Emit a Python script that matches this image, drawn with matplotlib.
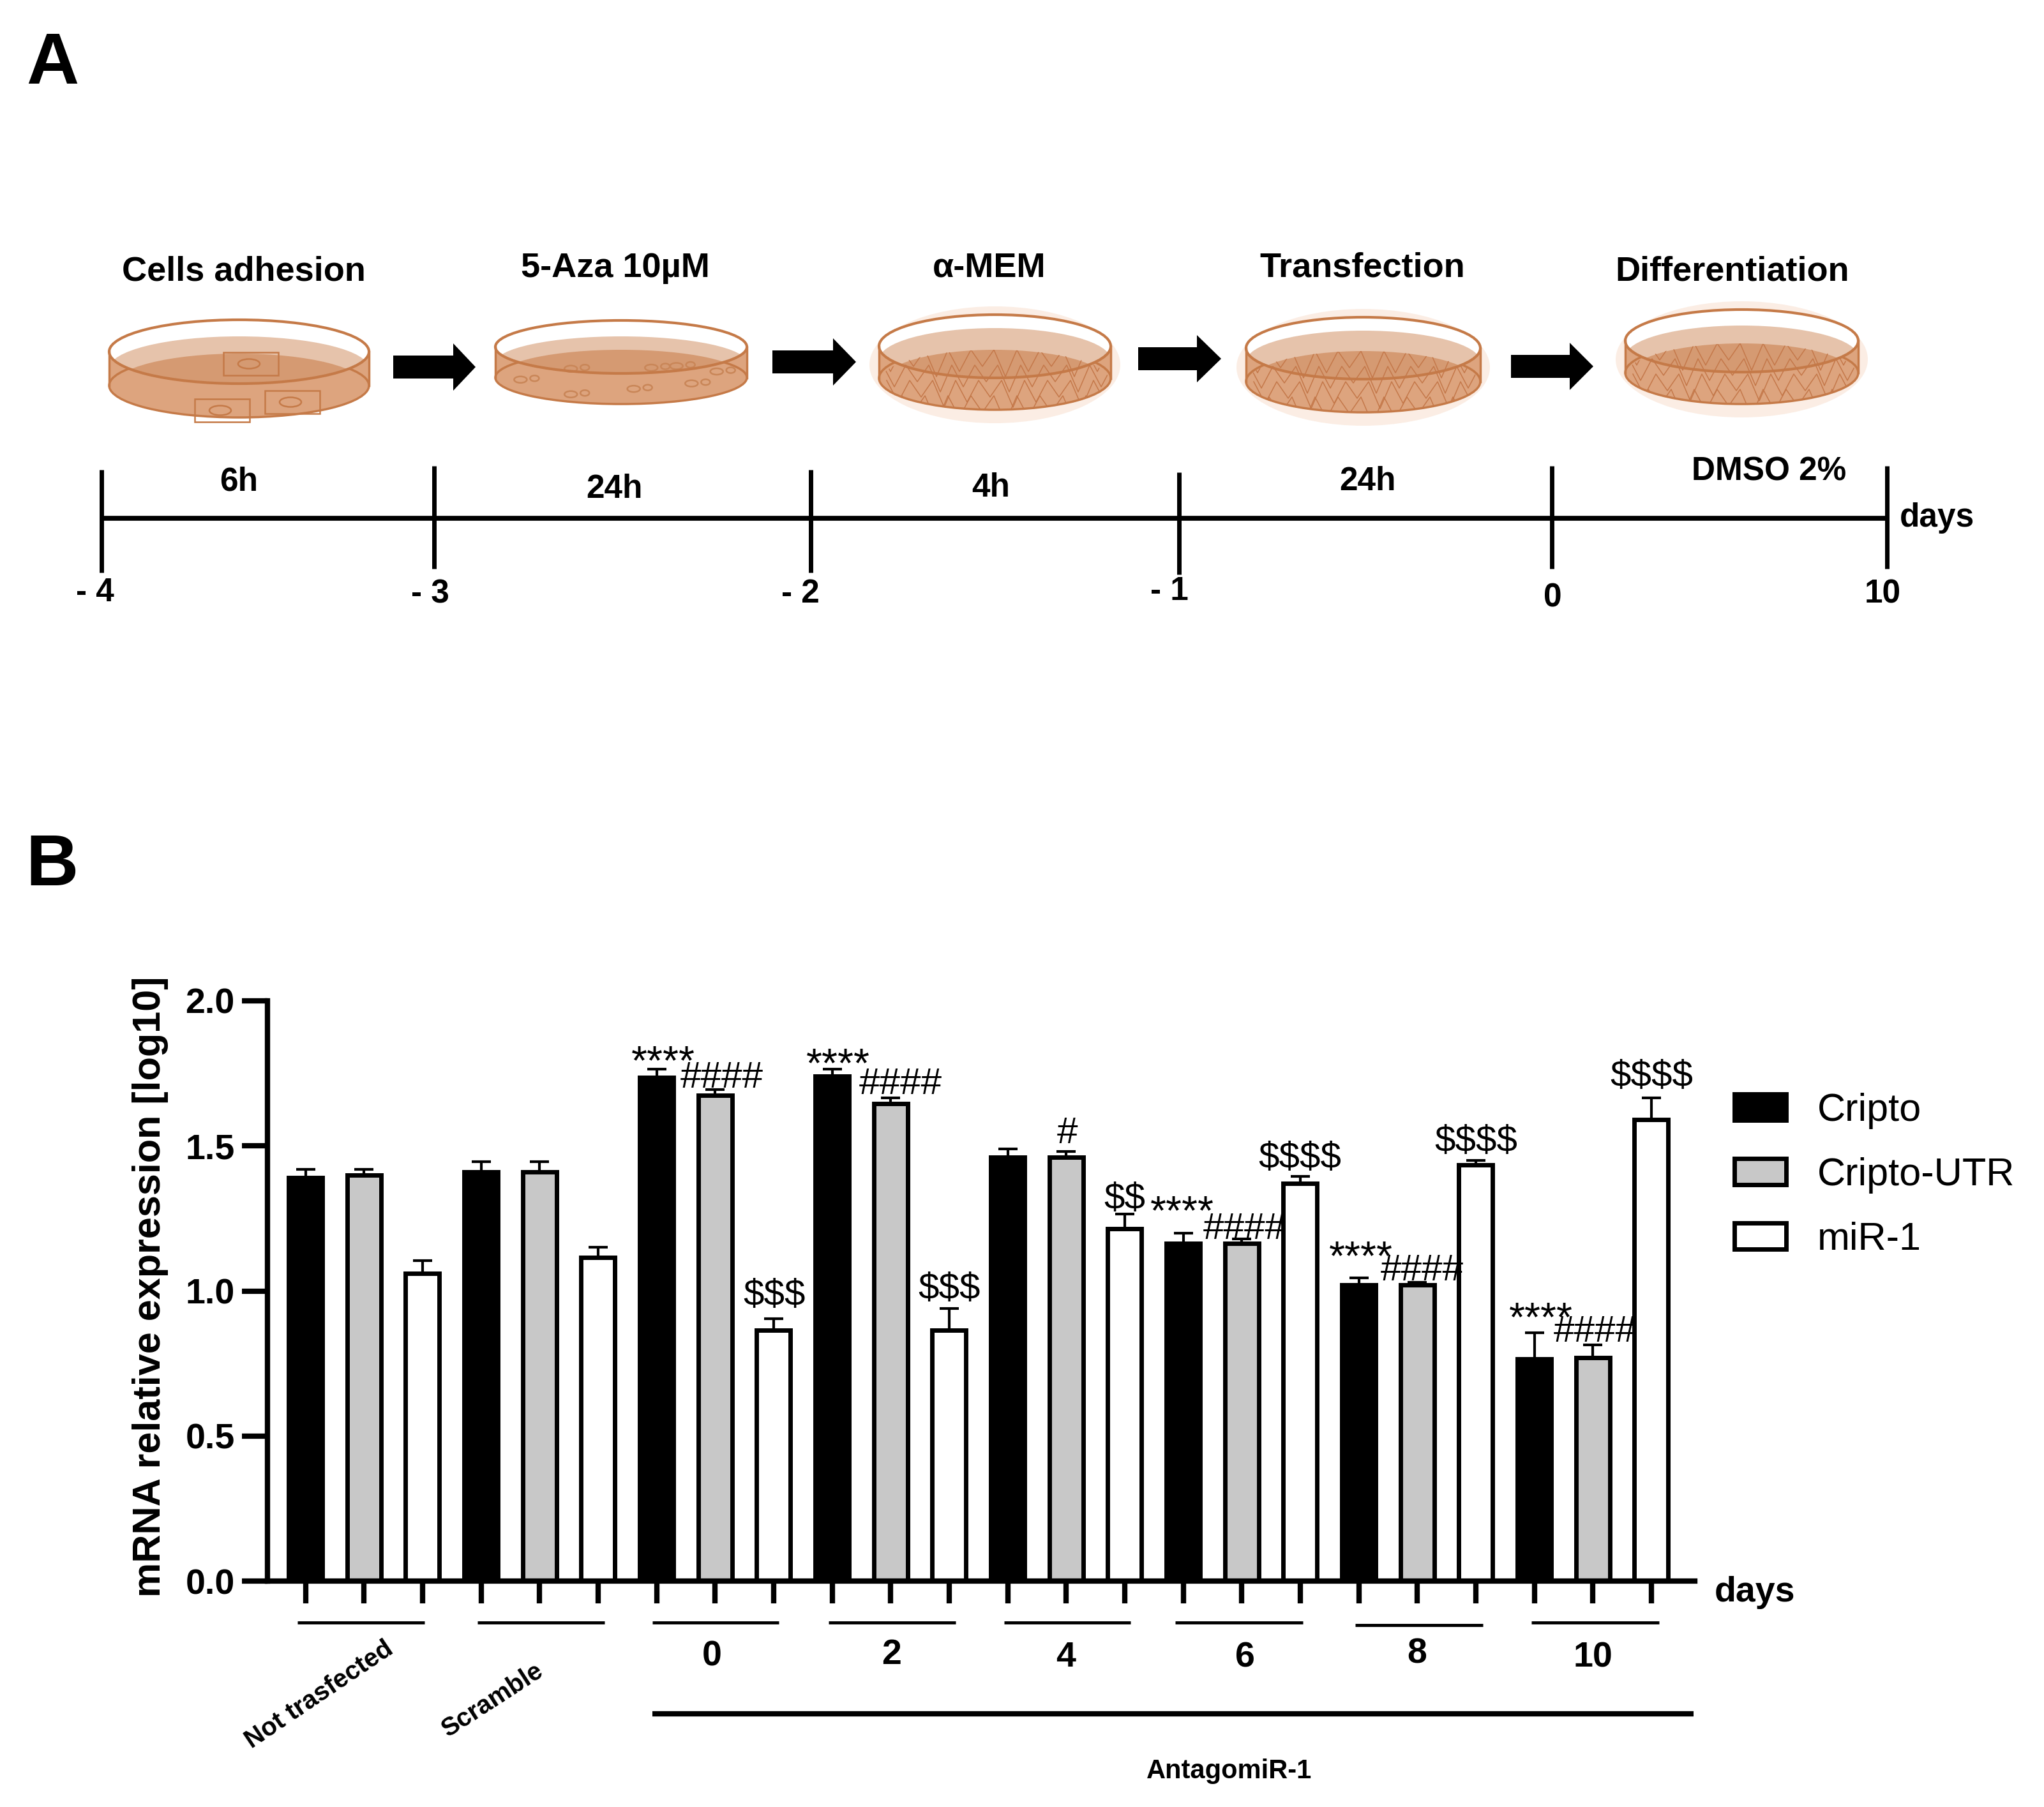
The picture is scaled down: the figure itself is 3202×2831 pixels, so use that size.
import numpy as np
import matplotlib
matplotlib.use('Agg')
import matplotlib.pyplot as plt
from matplotlib.patches import Ellipse, Rectangle, Polygon

plt.rcParams['font.family'] = ['Liberation Sans', 'DejaVu Sans']

# panel B data
groups = ['Not trasfected', 'Scramble', '0', '2', '4', '6', '8', '10']
cripto = [1.39, 1.41, 1.735, 1.74, 1.46, 1.165, 1.02, 0.765]
cripto_utr = [1.40, 1.41, 1.675, 1.645, 1.46, 1.165, 1.02, 0.77]
mir1 = [1.06, 1.115, 0.865, 0.865, 1.215, 1.37, 1.435, 1.59]
cripto_err = [0.03, 0.035, 0.03, 0.025, 0.03, 0.035, 0.025, 0.09]
cripto_utr_err = [0.02, 0.035, 0.02, 0.02, 0.02, 0.015, 0.01, 0.045]
mir1_err = [0.045, 0.035, 0.04, 0.075, 0.05, 0.025, 0.015, 0.075]
yticks = [0.0, 0.5, 1.0, 1.5, 2.0]

# panel A texts
steps = ['Cells adhesion', '5-Aza 10µM', 'α-MEM', 'Transfection', 'Differentiation']
durations = ['6h', '24h', '4h', '24h', 'DMSO 2%']
day_labels = ['- 4', '- 3', '- 2', '- 1', '0', '10']

W, H = 3202, 2831
fig = plt.figure(figsize=(W / 100, H / 100), dpi=100)

# pixel overlay for the schematic and the free text
pix = fig.add_axes([0, 0, 1, 1], zorder=5)
pix.set_xlim(0, W)
pix.set_ylim(H, 0)
pix.axis('off')
pix.patch.set_alpha(0)


def ptxt(x, y, s, size=40, weight='bold', **kw):
    kw.setdefault('ha', 'center')
    kw.setdefault('va', 'center')
    return pix.text(x, y, s, fontsize=size, fontweight=weight, color='black', parse_math=False, **kw)


def dish(x0, x1, top, bot, h, tan_top, floor_top, kind):
    cx = (x0 + x1) / 2
    w = x1 - x0
    rim_cy = top + h / 2
    floor_cy = bot - h / 2
    edge = '#c57a48'
    if kind == 'net':
        pix.add_patch(Ellipse((cx, (top + bot) / 2 + 4), w + 30, bot - top + 34, fc='#f9e2d2', ec='none', alpha=0.6))
    pix.add_patch(Rectangle((x0, rim_cy), w, floor_cy - rim_cy, fc='#dda47e', ec='none'))
    pix.add_patch(Ellipse((cx, floor_cy), w, h, fc='#dda47e', ec=edge, lw=2.5))
    rim = Ellipse((cx, rim_cy), w, h, fc='white', ec='none')
    pix.add_patch(rim)
    tan = Ellipse((cx, tan_top + h / 2), w, h, fc='#e6c3ab', ec='none')
    pix.add_patch(tan)
    tan.set_clip_path(rim)
    floor = Ellipse((cx, floor_top + h / 2), w * 0.97, h, fc='#d59a72', ec='none')
    pix.add_patch(floor)
    floor.set_clip_path(rim)

    if kind == 'net':
        clip = Ellipse((cx, (floor_top + bot) / 2), w - 6, bot - floor_top, fc='none', ec='none')
        pix.add_patch(clip)
        for r, y in enumerate(np.arange(floor_top, bot, 24)):
            xs = np.arange(x0, x1 + 18, 18) + (r % 3) * 6
            ys = y + np.where(np.arange(len(xs)) % 2 == 0, 0, 26 + 8 * (np.arange(len(xs)) % 3))
            line, = pix.plot(xs, ys, color='#c4784a', lw=1.1)
            line.set_clip_path(clip)
    elif kind == 'small':
        for a, b in [(0.30, 0.35), (0.72, 0.30), (0.10, 0.55), (0.30, 0.82), (0.55, 0.72), (0.78, 0.62), (0.62, 0.33), (0.88, 0.40)]:
            sx, sy = x0 + a * w, floor_top + b * (bot - floor_top)
            pix.add_patch(Ellipse((sx, sy), 20, 10, fc='none', ec='#c98658', lw=1.8))
            pix.add_patch(Ellipse((sx + 22, sy - 2), 14, 9, fc='none', ec='#c98658', lw=1.8))
    elif kind == 'big':
        for bx, by in [(350, 552), (305, 625), (415, 612)]:
            pix.add_patch(Rectangle((bx, by), 86, 36, fc='none', ec='#c57a48', lw=1.8))
            pix.add_patch(Ellipse((bx + 40, by + 18), 34, 15, fc='none', ec='#c57a48', lw=1.8))

    pix.plot([x0, x0], [rim_cy, floor_cy], color=edge, lw=2.5)
    pix.plot([x1, x1], [rim_cy, floor_cy], color=edge, lw=2.5)
    pix.add_patch(Ellipse((cx, rim_cy), w, h, fc='none', ec=edge, lw=3))


def arrow(x0, x1, head, y):
    pix.add_patch(Polygon([(x0, y - 18), (head, y - 18), (head, y - 37), (x1, y),
                           (head, y + 37), (head, y + 18), (x0, y + 18)], fc='black', ec='none'))


# panel letters
ptxt(82, 102, 'A', size=82)
ptxt(82, 1358, 'B', size=82)

dish(171, 578, 501, 654, 100, 527, 554, 'big')
dish(776, 1170, 502, 633, 83, 527, 548, 'small')
dish(1377, 1740, 493, 642, 99, 514, 548, 'net')
dish(1952, 2319, 497, 646, 97, 518, 550, 'net')
dish(2546, 2911, 485, 633, 98, 510, 538, 'net')

arrow(616, 745, 710, 575)
arrow(1210, 1341, 1305, 567)
arrow(1783, 1913, 1875, 562)
arrow(2367, 2496, 2459, 574)

for (x, y), s in zip([(382, 425), (964, 420), (1550, 420), (2134, 420), (2714, 425)], steps):
    ptxt(x, y, s, size=39)
for (x, y), s in zip([(374, 755), (962, 766), (1552, 764), (2142, 755), (2771, 739)], durations):
    ptxt(x, y, s, size=37)

# timeline
day_x = [159, 680, 1270, 1847, 2431, 2956]
day_y0 = [736, 730, 736, 740, 730, 730]
day_y1 = [897, 891, 897, 900, 891, 891]
pix.plot([day_x[0], day_x[-1]], [812, 812], color='black', lw=5.5, solid_capstyle='butt')
for x, a, b in zip(day_x, day_y0, day_y1):
    pix.plot([x, x], [a, b], color='black', lw=5, solid_capstyle='butt')
for (x, y), s in zip([(149, 929), (674, 931), (1254, 931), (1832, 927), (2432, 937), (2949, 931)], day_labels):
    ptxt(x, y, s, size=37)
ptxt(3034, 811, 'days', size=37)

# panel B
x_step = 91.67
x_zero = 478.5
y_zero = 2477
y_two = 1568
ax = fig.add_axes([419 / W, 1 - y_zero / H, (2655 - 419) / W, (y_zero - y_two) / H])
ax.set_xlim((419 - x_zero) / x_step, (2655 - x_zero) / x_step)
ax.set_ylim(0, 2)
ax.patch.set_alpha(0)

n = len(groups)
idx = np.arange(n)
bar_w = 0.58
series = [(cripto, cripto_err, 'black', 'Cripto'),
          (cripto_utr, cripto_utr_err, '#c8c8c8', 'Cripto-UTR'),
          (mir1, mir1_err, 'white', 'miR-1')]
for k, (vals, errs, col, lab) in enumerate(series):
    pos = idx * 3 + k
    ax.bar(pos, vals, width=bar_w, color=col, edgecolor='black', linewidth=5, label=lab, zorder=2)
    ax.errorbar(pos, vals, yerr=[np.zeros(n), errs], fmt='none', ecolor='black',
                elinewidth=3, capsize=11, capthick=3, zorder=1)

for s in ['top', 'right']:
    ax.spines[s].set_visible(False)
for s in ['left', 'bottom']:
    ax.spines[s].set_linewidth(6)
    ax.spines[s].set_zorder(3)
ax.set_yticks(yticks)
ax.set_yticklabels(['%.1f' % v for v in yticks], fontsize=40, fontweight='bold')
ax.set_xticks(np.arange(n * 3))
ax.set_xticklabels([])
ax.tick_params(axis='y', length=29, width=6, pad=8)
ax.tick_params(axis='x', length=25, width=6)

ax.legend(loc='upper left', bbox_to_anchor=(2717 / W, 1 - 1712 / H), bbox_transform=fig.transFigure,
          frameon=False, fontsize=44, handlelength=1.33, handleheight=0.66, labelspacing=0.72,
          handletextpad=0.8, borderpad=0, borderaxespad=0)

ptxt(235, 2016, 'mRNA relative expression [log10]', size=44, rotation=90)
ptxt(2749, 2495, 'days', size=40)

# group underlines and labels
under_x0 = [466, 748, 1022, 1298, 1573, 1841, 2123, 2399]
under_x1 = [665, 947, 1220, 1497, 1771, 2041, 2323, 2599]
under_y = [2542, 2542, 2542, 2542, 2542, 2542, 2546, 2542]
for a, b, y in zip(under_x0, under_x1, under_y):
    pix.plot([a, b], [y, y], color='black', lw=3.5, solid_capstyle='butt')
pix.plot([1022, 2653], [2685, 2685], color='black', lw=6, solid_capstyle='butt')

for x, y, s in zip([1115, 1397, 1670, 1950, 2220, 2495], [2595, 2593, 2597, 2597, 2591, 2597], groups[2:]):
    ptxt(x, y, s, size=40)
ptxt(500, 2655, groups[0], size=29, rotation=34, rotation_mode='anchor')
ptxt(772, 2663, groups[1], size=29, rotation=33, rotation_mode='anchor')
ptxt(1926, 2775, 'AntagomiR-1', size=30)

# significance marks (display centre, x and y)
stars = [(1039, 1646), (1313, 1650), (1852, 1881), (2132, 1952), (2414, 2048)]
hashes = [(1131, 1683), (1411, 1693), (1950, 1920), (2228, 1985), (2499, 2081)]
dollars = [(1213, 2024, '$$$'), (1487, 2014, '$$$'), (1762, 1873, '$$'),
           (2036, 1809, '$$$$'), (2312, 1783, '$$$$'), (2587, 1681, '$$$$')]
for x, y in stars:
    ptxt(x, y + 37, '****', size=46, weight='normal', va='baseline')
for x, y in hashes:
    ptxt(x, y + 21, '####', size=42, weight='normal', va='baseline')
for x, y, s in dollars:
    ptxt(x, y + 21, s, size=42, weight='normal', va='baseline')
ptxt(1672, 1770 + 21, '#', size=42, weight='normal', va='baseline')

fig.savefig('out.png', dpi=100, facecolor='white')
